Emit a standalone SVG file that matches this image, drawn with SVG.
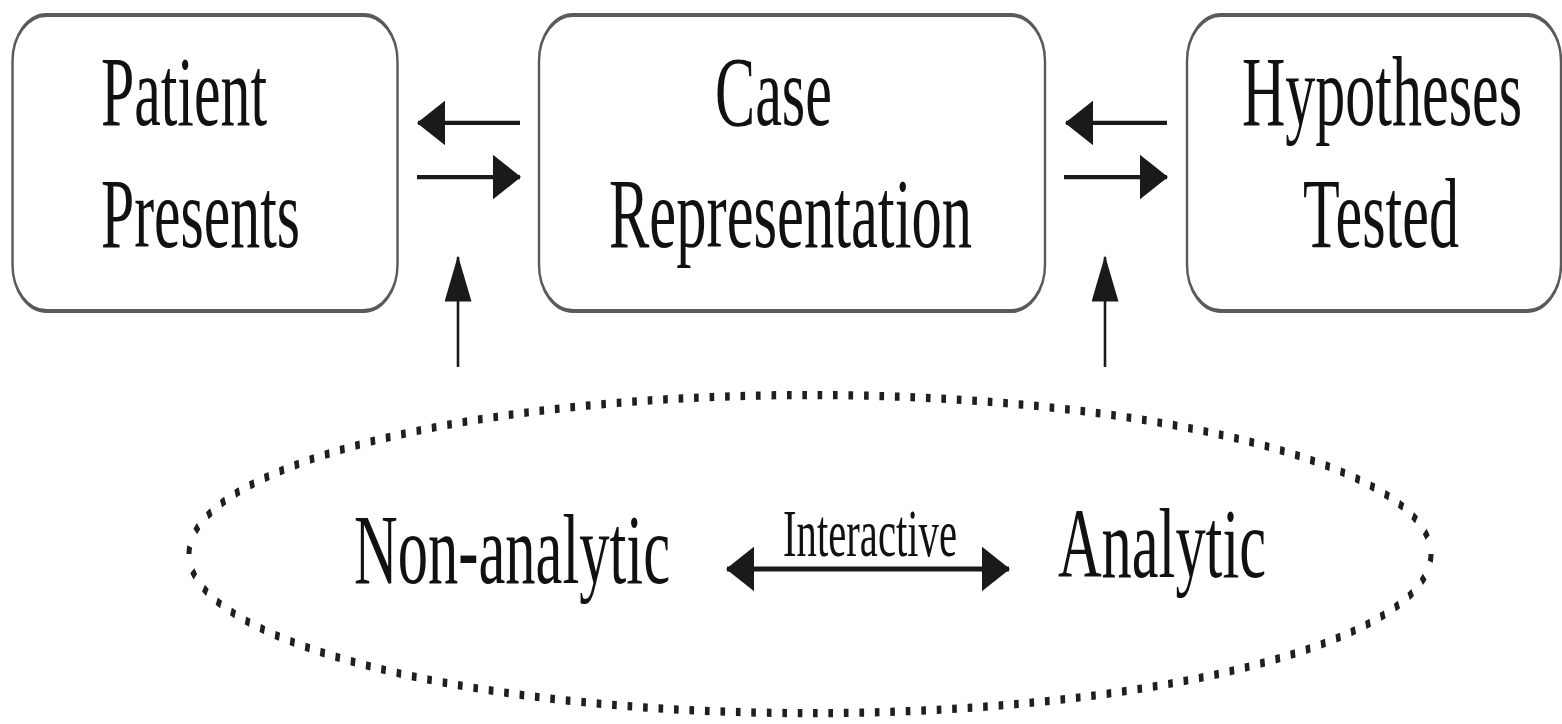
<svg xmlns="http://www.w3.org/2000/svg" width="1562" height="724" viewBox="0 0 1562 724">
  <style>
    .box { fill: #ffffff; stroke: #5a5a5a; stroke-width: 2.4; }
    .lbl { font-family: "Liberation Serif", "Times New Roman", serif; font-size: 60px; fill: #111111; }
    .small { font-family: "Liberation Serif", "Times New Roman", serif; font-size: 41px; fill: #111111; }
    .conn { stroke: #1a1a1a; stroke-width: 2.6; fill: none; }
    .dots { fill: none; stroke: #1f1f1f; stroke-width: 5; stroke-dasharray: 0.3 0.7; }
  </style>
  <defs>
    <marker id="head" markerUnits="userSpaceOnUse" markerWidth="28" markerHeight="27" refX="27" refY="13.5" orient="auto-start-reverse" viewBox="0 0 28 27">
      <path d="M0,0 L28,13.5 L0,27 Z" fill="#1a1a1a"/>
    </marker>
  </defs>
  <rect width="1562" height="724" fill="#ffffff"/>
  <g id="diagram" transform="scale(1,1.65)">
    <g id="patient-presents">
      <rect class="box" x="12.5" y="9.1" width="385" height="179.4" rx="34" ry="28"/>
      <text class="lbl" x="101" y="75.8" textLength="166" lengthAdjust="spacingAndGlyphs">Patient</text>
      <text class="lbl" x="101" y="149.7" textLength="199" lengthAdjust="spacingAndGlyphs">Presents</text>
    </g>
    <g id="case-representation">
      <rect class="box" x="539" y="9.1" width="506" height="179.4" rx="34" ry="28"/>
      <text class="lbl" x="715" y="75.8" textLength="117" lengthAdjust="spacingAndGlyphs">Case</text>
      <text class="lbl" x="609" y="149.7" textLength="363" lengthAdjust="spacingAndGlyphs">Representation</text>
    </g>
    <g id="hypotheses-tested">
      <rect class="box" x="1187" y="9.1" width="374" height="179.4" rx="34" ry="28"/>
      <text class="lbl" x="1242" y="75.8" textLength="280" lengthAdjust="spacingAndGlyphs">Hypotheses</text>
      <text class="lbl" x="1303" y="149.7" textLength="156" lengthAdjust="spacingAndGlyphs">Tested</text>
    </g>
    <g id="reasoning-modes">
      <ellipse class="dots" cx="810" cy="335.8" rx="621" ry="96.4" pathLength="166"/>
      <text class="lbl" x="354" y="353.3" textLength="316" lengthAdjust="spacingAndGlyphs">Non-analytic</text>
      <text class="lbl" x="1058" y="349.7" textLength="208" lengthAdjust="spacingAndGlyphs">Analytic</text>
    </g>
    <g id="connectors">
      <line class="conn" x1="520" y1="74.5" x2="418" y2="74.5" marker-end="url(#head)"/>
      <line class="conn" x1="417" y1="107.3" x2="520" y2="107.3" marker-end="url(#head)"/>
      <line class="conn" x1="1167" y1="74.5" x2="1066" y2="74.5" marker-end="url(#head)"/>
      <line class="conn" x1="1064" y1="107.3" x2="1167" y2="107.3" marker-end="url(#head)"/>
      <line class="conn" x1="458" y1="222.4" x2="458" y2="155.8" marker-end="url(#head)"/>
      <line class="conn" x1="1105" y1="222.4" x2="1105" y2="155.8" marker-end="url(#head)"/>
      <line class="conn" style="stroke-width:3" x1="727" y1="344.8" x2="1009" y2="344.8" marker-start="url(#head)" marker-end="url(#head)"/>
      <text class="small" x="783" y="337" textLength="174" lengthAdjust="spacingAndGlyphs">Interactive</text>
    </g>
  </g>
</svg>
